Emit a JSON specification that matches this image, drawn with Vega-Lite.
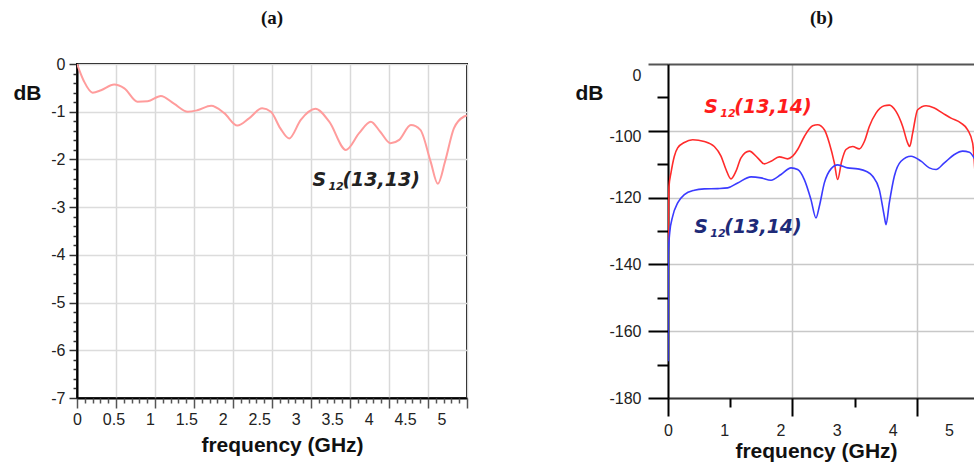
{
  "$schema": "https://vega.github.io/schema/vega-lite/v6.json",
  "background": "white",
  "padding": {"left": 12, "top": 8, "right": 0, "bottom": 5},
  "config": {
    "font": "Liberation Sans",
    "axis": {"labelColor": "#222", "titleColor": "#111", "labelFlush": false, "labelOverlap": false, "labelBound": false},
    "title": {"font": "Liberation Serif", "fontSize": 19, "fontWeight": "bold", "color": "#111", "anchor": "middle"}
  },
  "datasets": {
    "a": [
      {"f": 0, "dB": 0}, {"f": 0.05, "dB": -0.2}, {"f": 0.1, "dB": -0.375}, {"f": 0.215, "dB": -0.6},
      {"f": 0.33, "dB": -0.55}, {"f": 0.51, "dB": -0.43}, {"f": 0.65, "dB": -0.51}, {"f": 0.83, "dB": -0.79},
      {"f": 0.97, "dB": -0.78}, {"f": 1.15, "dB": -0.67}, {"f": 1.33, "dB": -0.83}, {"f": 1.52, "dB": -1.0},
      {"f": 1.65, "dB": -0.97}, {"f": 1.84, "dB": -0.875}, {"f": 2.02, "dB": -1.03}, {"f": 2.2, "dB": -1.29},
      {"f": 2.36, "dB": -1.14}, {"f": 2.54, "dB": -0.93}, {"f": 2.66, "dB": -1.0}, {"f": 2.79, "dB": -1.35},
      {"f": 2.91, "dB": -1.56}, {"f": 3.07, "dB": -1.17}, {"f": 3.27, "dB": -0.94}, {"f": 3.46, "dB": -1.21},
      {"f": 3.69, "dB": -1.8}, {"f": 3.87, "dB": -1.45}, {"f": 4.03, "dB": -1.21}, {"f": 4.16, "dB": -1.42},
      {"f": 4.3, "dB": -1.66}, {"f": 4.42, "dB": -1.59}, {"f": 4.58, "dB": -1.28}, {"f": 4.71, "dB": -1.38},
      {"f": 4.85, "dB": -2.04}, {"f": 4.95, "dB": -2.51}, {"f": 5.05, "dB": -2.04}, {"f": 5.17, "dB": -1.35},
      {"f": 5.31, "dB": -1.1}, {"f": 5.35, "dB": -1.08}
    ],
    "b": [
      {"curve": "upper", "f": 0, "dB": -138.6}, {"curve": "upper", "f": 0.018, "dB": -116.6}, {"curve": "upper", "f": 0.053, "dB": -112.6},
      {"curve": "upper", "f": 0.113, "dB": -107.6}, {"curve": "upper", "f": 0.172, "dB": -105.1}, {"curve": "upper", "f": 0.291, "dB": -103.5},
      {"curve": "upper", "f": 0.439, "dB": -102.7}, {"curve": "upper", "f": 0.646, "dB": -103.2}, {"curve": "upper", "f": 0.824, "dB": -104.7},
      {"curve": "upper", "f": 0.943, "dB": -107.6}, {"curve": "upper", "f": 1.032, "dB": -111.6}, {"curve": "upper", "f": 1.121, "dB": -114.4},
      {"curve": "upper", "f": 1.21, "dB": -112.1}, {"curve": "upper", "f": 1.299, "dB": -108.1}, {"curve": "upper", "f": 1.447, "dB": -106.1},
      {"curve": "upper", "f": 1.595, "dB": -108.1}, {"curve": "upper", "f": 1.714, "dB": -109.9}, {"curve": "upper", "f": 1.833, "dB": -109.1},
      {"curve": "upper", "f": 1.981, "dB": -107.8}, {"curve": "upper", "f": 2.129, "dB": -108.4}, {"curve": "upper", "f": 2.218, "dB": -107.6},
      {"curve": "upper", "f": 2.307, "dB": -105.6}, {"curve": "upper", "f": 2.426, "dB": -101.7}, {"curve": "upper", "f": 2.574, "dB": -98.5},
      {"curve": "upper", "f": 2.663, "dB": -98.2}, {"curve": "upper", "f": 2.782, "dB": -99.7}, {"curve": "upper", "f": 2.871, "dB": -103.7},
      {"curve": "upper", "f": 2.96, "dB": -109.6}, {"curve": "upper", "f": 3.019, "dB": -114.6}, {"curve": "upper", "f": 3.09, "dB": -109.1},
      {"curve": "upper", "f": 3.167, "dB": -105.6}, {"curve": "upper", "f": 3.286, "dB": -104.7}, {"curve": "upper", "f": 3.405, "dB": -105.4},
      {"curve": "upper", "f": 3.494, "dB": -103.2}, {"curve": "upper", "f": 3.582, "dB": -98.7}, {"curve": "upper", "f": 3.701, "dB": -94.7},
      {"curve": "upper", "f": 3.849, "dB": -92.5}, {"curve": "upper", "f": 3.938, "dB": -92.3}, {"curve": "upper", "f": 4.057, "dB": -94.2},
      {"curve": "upper", "f": 4.176, "dB": -98.7}, {"curve": "upper", "f": 4.265, "dB": -103.7}, {"curve": "upper", "f": 4.3, "dB": -104.7},
      {"curve": "upper", "f": 4.353, "dB": -100.7}, {"curve": "upper", "f": 4.442, "dB": -93.7}, {"curve": "upper", "f": 4.591, "dB": -92.5},
      {"curve": "upper", "f": 4.739, "dB": -93.2}, {"curve": "upper", "f": 4.887, "dB": -94.7}, {"curve": "upper", "f": 5.036, "dB": -96.2},
      {"curve": "upper", "f": 5.214, "dB": -97.7}, {"curve": "upper", "f": 5.332, "dB": -99.7}, {"curve": "upper", "f": 5.421, "dB": -103.7},
      {"curve": "upper", "f": 5.463, "dB": -112.6},
      {"curve": "lower", "f": 0, "dB": -169}, {"curve": "lower", "f": 0.004, "dB": -137.5}, {"curve": "lower", "f": 0.03, "dB": -130.6},
      {"curve": "lower", "f": 0.083, "dB": -125.6}, {"curve": "lower", "f": 0.172, "dB": -121.6}, {"curve": "lower", "f": 0.291, "dB": -119.1},
      {"curve": "lower", "f": 0.469, "dB": -117.8}, {"curve": "lower", "f": 0.646, "dB": -117.4}, {"curve": "lower", "f": 0.884, "dB": -117.3},
      {"curve": "lower", "f": 1.062, "dB": -117.1}, {"curve": "lower", "f": 1.24, "dB": -115.6}, {"curve": "lower", "f": 1.477, "dB": -113.8},
      {"curve": "lower", "f": 1.655, "dB": -114.1}, {"curve": "lower", "f": 1.833, "dB": -114.8}, {"curve": "lower", "f": 2.011, "dB": -113.1},
      {"curve": "lower", "f": 2.189, "dB": -111.1}, {"curve": "lower", "f": 2.307, "dB": -111.6}, {"curve": "lower", "f": 2.426, "dB": -114.6},
      {"curve": "lower", "f": 2.544, "dB": -120.6}, {"curve": "lower", "f": 2.633, "dB": -126.1}, {"curve": "lower", "f": 2.693, "dB": -122.6},
      {"curve": "lower", "f": 2.782, "dB": -115.6}, {"curve": "lower", "f": 2.9, "dB": -111.4}, {"curve": "lower", "f": 3.019, "dB": -110.2},
      {"curve": "lower", "f": 3.197, "dB": -111.1}, {"curve": "lower", "f": 3.375, "dB": -111.4}, {"curve": "lower", "f": 3.523, "dB": -112.1},
      {"curve": "lower", "f": 3.642, "dB": -113.6}, {"curve": "lower", "f": 3.76, "dB": -117.6}, {"curve": "lower", "f": 3.849, "dB": -125.6},
      {"curve": "lower", "f": 3.879, "dB": -128.1}, {"curve": "lower", "f": 3.938, "dB": -121.6}, {"curve": "lower", "f": 4.027, "dB": -113.6},
      {"curve": "lower", "f": 4.146, "dB": -109.1}, {"curve": "lower", "f": 4.324, "dB": -107.6}, {"curve": "lower", "f": 4.502, "dB": -109.1},
      {"curve": "lower", "f": 4.65, "dB": -111.1}, {"curve": "lower", "f": 4.769, "dB": -111.6}, {"curve": "lower", "f": 4.917, "dB": -109.6},
      {"curve": "lower", "f": 5.095, "dB": -107.1}, {"curve": "lower", "f": 5.243, "dB": -106.1}, {"curve": "lower", "f": 5.362, "dB": -106.4},
      {"curve": "lower", "f": 5.463, "dB": -108.6}
    ],
    "labelsA": [
      {"f": 3.229, "dB": -2.5625, "main": "S", "sub": "12", "rest": "(13,13)"}
    ],
    "labelsB": [
      {"curve": "upper", "f": 0.646, "dB": -94.7, "main": "S", "sub": "12", "rest": "(13,14)"},
      {"curve": "lower", "f": 0.468, "dB": -130.6, "main": "S", "sub": "12", "rest": "(13,14)"}
    ]
  },
  "spacing": 104,
  "hconcat": [
    {
      "width": 390,
      "height": 334,
      "title": {"text": "(a)", "offset": 28},
      "view": {"stroke": "black", "strokeWidth": 2},
      "resolve": {"axis": {"x": "independent"}},
      "layer": [
        {
          "data": {"name": "a"},
          "mark": {"type": "line", "color": "#ff9c9c", "strokeWidth": 2, "interpolate": "monotone", "clip": true},
          "encoding": {
            "x": {
              "field": "f", "type": "quantitative",
              "scale": {"domain": [0, 5.35], "nice": false, "zero": false},
              "axis": {
                "orient": "bottom",
                "values": [0, 0.5, 1, 1.5, 2, 2.5, 3, 3.5, 4, 4.5, 5],
                "tickCount": 200,
                "labelExpr": "'' + datum.value",
                "ticks": false, "grid": false,
                "domain": true, "domainColor": "black", "domainWidth": 2,
                "labelFontSize": 16, "labelPadding": 13,
                "title": "frequency (GHz)", "titleFontSize": 21, "titleFontWeight": "bold",
                "titleX": 205, "titleY": 53, "titleAlign": "center", "titleBaseline": "alphabetic"
              }
            },
            "y": {
              "field": "dB", "type": "quantitative",
              "scale": {"domain": [-7, 0], "nice": false, "zero": false},
              "axis": {
                "values": [0, -0.2, -0.4, -0.6, -0.8, -1, -1.2, -1.4, -1.6, -1.8, -2, -2.2, -2.4, -2.6, -2.8, -3, -3.2, -3.4, -3.6, -3.8, -4, -4.2, -4.4, -4.6, -4.8, -5, -5.2, -5.4, -5.6, -5.8, -6, -6.2, -6.4, -6.6, -6.8, -7],
                "tickCount": 200,
                "labelExpr": "abs(datum.value - round(datum.value)) < 0.01 ? '' + round(datum.value) : ''",
                "labelFontSize": 16, "labelPadding": 4,
                "tickSize": {"condition": {"test": "abs(datum.value - round(datum.value)) < 0.01", "value": 8}, "value": 4},
                "tickColor": "#333", "tickWidth": 1.5,
                "grid": true, "gridColor": "#dcdcdc", "gridWidth": 1.5,
                "gridOpacity": {"condition": {"test": "abs(datum.value - round(datum.value)) < 0.01", "value": 1}, "value": 0},
                "domainColor": "black", "domainWidth": 2,
                "title": "dB", "titleAngle": 0, "titleFontSize": 21, "titleFontWeight": "bold",
                "titleX": -50, "titleY": 29, "titleAlign": "center", "titleBaseline": "middle"
              }
            }
          }
        },
        {
          "data": {"name": "a"},
          "mark": {"type": "point", "opacity": 0},
          "encoding": {
            "x": {
              "field": "f", "type": "quantitative",
              "axis": {
                "orient": "bottom",
                "values": [0, 0.107, 0.214, 0.321, 0.428, 0.535, 0.642, 0.749, 0.856, 0.963, 1.07, 1.177, 1.284, 1.391, 1.498, 1.605, 1.712, 1.819, 1.926, 2.033, 2.14, 2.247, 2.354, 2.461, 2.568, 2.675, 2.782, 2.889, 2.996, 3.103, 3.21, 3.317, 3.424, 3.531, 3.638, 3.745, 3.852, 3.959, 4.066, 4.173, 4.28, 4.387, 4.494, 4.601, 4.708, 4.815, 4.922, 5.029, 5.136, 5.243, 5.35],
                "tickCount": 200,
                "labels": false, "title": null, "domain": false,
                "tickSize": {"condition": {"test": "abs(datum.value/0.535 - round(datum.value/0.535)) < 0.05", "value": 10}, "value": 5},
                "tickColor": "#555", "tickWidth": 1.5,
                "grid": true, "gridColor": "#d9d9d9", "gridWidth": 1.5,
                "gridOpacity": {"condition": {"test": "abs(datum.value/0.535 - round(datum.value/0.535)) < 0.05", "value": 1}, "value": 0}
              }
            },
            "y": {"field": "dB", "type": "quantitative"}
          }
        },
        {
          "data": {"name": "labelsA"},
          "mark": {"type": "text", "align": "left", "baseline": "alphabetic", "font": "DejaVu Sans", "fontWeight": "bold", "fontStyle": "italic", "fontSize": 19, "color": "#222"},
          "encoding": {
            "x": {"field": "f", "type": "quantitative", "axis": null},
            "y": {"field": "dB", "type": "quantitative"},
            "text": {"field": "main"}
          }
        },
        {
          "data": {"name": "labelsA"},
          "mark": {"type": "text", "align": "left", "baseline": "alphabetic", "font": "DejaVu Sans", "fontWeight": "bold", "fontStyle": "italic", "fontSize": 11, "dx": 16, "dy": 4, "color": "#222"},
          "encoding": {
            "x": {"field": "f", "type": "quantitative", "axis": null},
            "y": {"field": "dB", "type": "quantitative"},
            "text": {"field": "sub"}
          }
        },
        {
          "data": {"name": "labelsA"},
          "mark": {"type": "text", "align": "left", "baseline": "alphabetic", "font": "DejaVu Sans", "fontWeight": "bold", "fontStyle": "italic", "fontSize": 19, "dx": 30, "color": "#222"},
          "encoding": {
            "x": {"field": "f", "type": "quantitative", "axis": null},
            "y": {"field": "dB", "type": "quantitative"},
            "text": {"field": "rest"}
          }
        }
      ]
    },
    {
      "width": 307,
      "height": 334,
      "title": {"text": "(b)", "offset": 35},
      "view": {"stroke": null},
      "resolve": {"axis": {"x": "independent"}, "scale": {"color": "independent"}},
      "layer": [
        {
          "data": {"name": "b"},
          "mark": {"type": "line", "strokeWidth": 1.6, "interpolate": "monotone", "clip": true},
          "encoding": {
            "x": {
              "field": "f", "type": "quantitative",
              "scale": {"domain": [0, 5.4626], "nice": false, "zero": false},
              "axis": {
                "orient": "bottom",
                "values": [0, 1, 2, 3, 4, 5],
                "tickCount": 200,
                "labelExpr": "'' + datum.value",
                "ticks": false, "grid": false,
                "domain": true, "domainColor": "#333", "domainWidth": 2,
                "labelFontSize": 16, "labelPadding": 24,
                "title": "frequency (GHz)", "titleFontSize": 21, "titleFontWeight": "bold",
                "titleX": 148, "titleY": 59, "titleAlign": "center", "titleBaseline": "alphabetic"
              }
            },
            "y": {
              "field": "dB", "type": "quantitative",
              "scale": {"domain": [-180, -80], "nice": false, "zero": false},
              "axis": {
                "values": [-180, -170, -160, -150, -140, -130, -120, -110, -100, -90, -80],
                "tickCount": 200,
                "labelExpr": "datum.value == -80 ? '0' : (datum.value % 20 == 0 ? '' + datum.value : '')",
                "labelOffset": {"condition": [{"test": "datum.value == -80", "value": 11}, {"test": "datum.value == -100", "value": 6}], "value": 0},
                "labelFontSize": 16, "labelPadding": 7,
                "tickSize": {"condition": {"test": "datum.value % 20 == 0", "value": 20}, "value": 11},
                "tickColor": {"condition": {"test": "datum.value == -80", "value": "#555"}, "value": "black"},
                "tickWidth": 2,
                "grid": true,
                "gridColor": {"condition": {"test": "datum.value == -80", "value": "#555"}, "value": "#c8c8c8"},
                "gridWidth": {"condition": {"test": "datum.value == -80", "value": 2}, "value": 1.5},
                "gridOpacity": {"condition": {"test": "datum.value % 20 == 0", "value": 1}, "value": 0},
                "domainColor": "black", "domainWidth": 2,
                "title": "dB", "titleAngle": 0, "titleFontSize": 21, "titleFontWeight": "bold",
                "titleX": -79, "titleY": 29, "titleAlign": "center", "titleBaseline": "middle"
              }
            },
            "color": {
              "field": "curve", "type": "nominal",
              "scale": {"domain": ["upper", "lower"], "range": ["#ff2b2b", "#3b3bff"]},
              "legend": null
            }
          }
        },
        {
          "data": {"name": "b"},
          "mark": {"type": "point", "opacity": 0},
          "encoding": {
            "x": {
              "field": "f", "type": "quantitative",
              "axis": {
                "orient": "bottom",
                "values": [0, 1.107, 2.214, 3.32, 4.427],
                "tickCount": 200,
                "labels": false, "title": null, "domain": false,
                "tickSize": {"condition": {"test": "abs(datum.value/2.2135 - round(datum.value/2.2135)) < 0.05", "value": 18}, "value": 9},
                "tickColor": "black", "tickWidth": 2,
                "grid": true, "gridColor": "#c8c8c8", "gridWidth": 1.5,
                "gridOpacity": {"condition": {"test": "abs(datum.value/2.2135 - round(datum.value/2.2135)) < 0.05", "value": 1}, "value": 0}
              }
            },
            "y": {"field": "dB", "type": "quantitative"}
          }
        },
        {
          "data": {"name": "labelsB"},
          "mark": {"type": "text", "align": "left", "baseline": "alphabetic", "font": "DejaVu Sans", "fontWeight": "bold", "fontStyle": "italic", "fontSize": 19},
          "encoding": {
            "x": {"field": "f", "type": "quantitative", "axis": null},
            "y": {"field": "dB", "type": "quantitative"},
            "text": {"field": "main"},
            "color": {"field": "curve", "type": "nominal", "scale": {"domain": ["upper", "lower"], "range": ["#ff1c1c", "#1e2a78"]}, "legend": null}
          }
        },
        {
          "data": {"name": "labelsB"},
          "mark": {"type": "text", "align": "left", "baseline": "alphabetic", "font": "DejaVu Sans", "fontWeight": "bold", "fontStyle": "italic", "fontSize": 11, "dx": 16, "dy": 4},
          "encoding": {
            "x": {"field": "f", "type": "quantitative", "axis": null},
            "y": {"field": "dB", "type": "quantitative"},
            "text": {"field": "sub"},
            "color": {"field": "curve", "type": "nominal", "scale": {"domain": ["upper", "lower"], "range": ["#ff1c1c", "#1e2a78"]}, "legend": null}
          }
        },
        {
          "data": {"name": "labelsB"},
          "mark": {"type": "text", "align": "left", "baseline": "alphabetic", "font": "DejaVu Sans", "fontWeight": "bold", "fontStyle": "italic", "fontSize": 19, "dx": 30},
          "encoding": {
            "x": {"field": "f", "type": "quantitative", "axis": null},
            "y": {"field": "dB", "type": "quantitative"},
            "text": {"field": "rest"},
            "color": {"field": "curve", "type": "nominal", "scale": {"domain": ["upper", "lower"], "range": ["#ff1c1c", "#1e2a78"]}, "legend": null}
          }
        }
      ]
    }
  ]
}
